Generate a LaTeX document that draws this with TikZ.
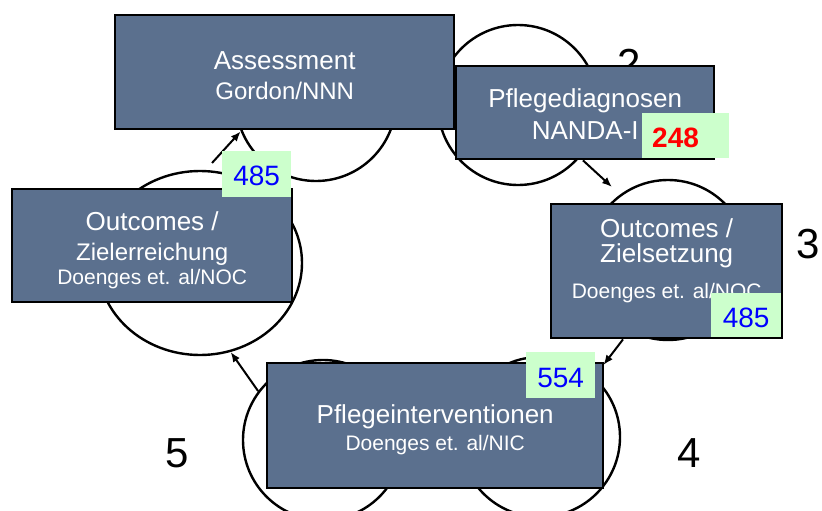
\documentclass[tikz,border=0pt]{standalone}
\usepackage{fontspec}
\setmainfont{Liberation Sans}
\usetikzlibrary{arrows.meta,shapes.geometric}
\definecolor{schiefer}{RGB}{91,112,142}
\definecolor{hellgruen}{RGB}{204,255,204}
\lineskiplimit=-100pt

\begin{document}
\begin{tikzpicture}[x=1pt,y=-1pt,
        kreis/.style={draw,circle,line width=2.4pt,minimum size=160pt,inner sep=0pt},
        kasten/.style={draw,fill=schiefer,line width=2.4pt,anchor=north west,text=white,align=center,inner sep=0pt},
        zahl/.style={fill=hellgruen,anchor=north west,inner sep=0pt,text=blue,font=\fontsize{28}{30}\selectfont},
        ziffer/.style={anchor=base,inner sep=0pt,font=\fontsize{42}{44}\selectfont},
        pfeil/.style={-{Latex[length=10pt,width=8pt]},line width=2pt}]
    \useasboundingbox (0,0) rectangle (822,511);
    % Kreise
    \node[kreis] (k1) at (316,101) {};
    \node[kreis] (k2) at (518,105) {};
    \node[kreis] (k3) at (668,260) {};
    \node[kreis] (k4) at (540,437) {};
    \node[kreis] (k5) at (323,440) {};
    \node[draw,ellipse,line width=2.4pt,minimum width=204pt,minimum height=184pt,inner sep=0pt] (k6) at (200,263) {};
    \node[ziffer] (n2) at (629,78) {2};
    \node[ziffer] (n3) at (808,258) {3};
    \node[ziffer] (n4) at (689,467) {4};
    \node[ziffer] (n5) at (177,467) {5};
    % Kaesten
    \node[kasten,minimum width=339pt,text height=84pt,text depth=30pt,font=\fontsize{26}{30}\selectfont] (assess) at (114,14)
        {Assessment\\\fontsize{24}{30}\selectfont Gordon/NNN};
    \node[kasten,minimum width=258pt,text height=73pt,text depth=20pt,font=\fontsize{26}{32}\selectfont] (diag) at (455,65)
        {Pflegediagnosen\\NANDA-I};
    \node[kasten,minimum width=231pt,text height=94pt,text depth=40pt,font=\fontsize{26}{25}\selectfont] (setz) at (550,203)
        {Outcomes /\\Zielsetzung\\[11pt]\fontsize{21}{25}\selectfont Doenges et. al/NOC};
    \node[kasten,minimum width=336pt,text height=87pt,text depth=38pt,font=\fontsize{26}{27}\selectfont] (interv) at (266,362)
        {Pflegeinterventionen\\\fontsize{21}{27}\selectfont Doenges et. al/NIC};
    \node[kasten,minimum width=280pt,text height=95pt,text depth=18pt,font=\fontsize{26}{24}\selectfont] (erreich) at (11,188)
        {Outcomes /\\[6pt]\fontsize{24}{24}\selectfont Zielerreichung\\\fontsize{21}{24}\selectfont Doenges et. al/NOC};
    % Pfeile
    \coordinate (a1) at (212,163);
    \coordinate (a2) at (612,187);
    \draw[pfeil] (a1) -- (k1.202);
    \draw[pfeil] ([xshift=128pt]diag.south west) -- (a2);
    \draw[pfeil] ([xshift=73pt]setz.south west) -- ([xshift=-1pt,yshift=-3pt]interv.north east);
    \draw[pfeil] (k5.143.6) -- (k6.-71);
    % Zahlen
    \node[zahl,minimum width=69pt,text height=34pt,text depth=12pt] (z1) at (222,151) {485};
    \node[zahl,text width=67pt,align=left,inner xsep=10pt,text height=34pt,text depth=11pt,text=red,font=\fontsize{28}{30}\selectfont\bfseries] (z2) at (642,113) {248};
    \node[zahl,minimum width=70pt,text height=34pt,text depth=10pt] (z3) at (711,293) {485};
    \node[zahl,minimum width=69pt,text height=35pt,text depth=11pt] (z4) at (526,352) {554};
\end{tikzpicture}
\end{document}
